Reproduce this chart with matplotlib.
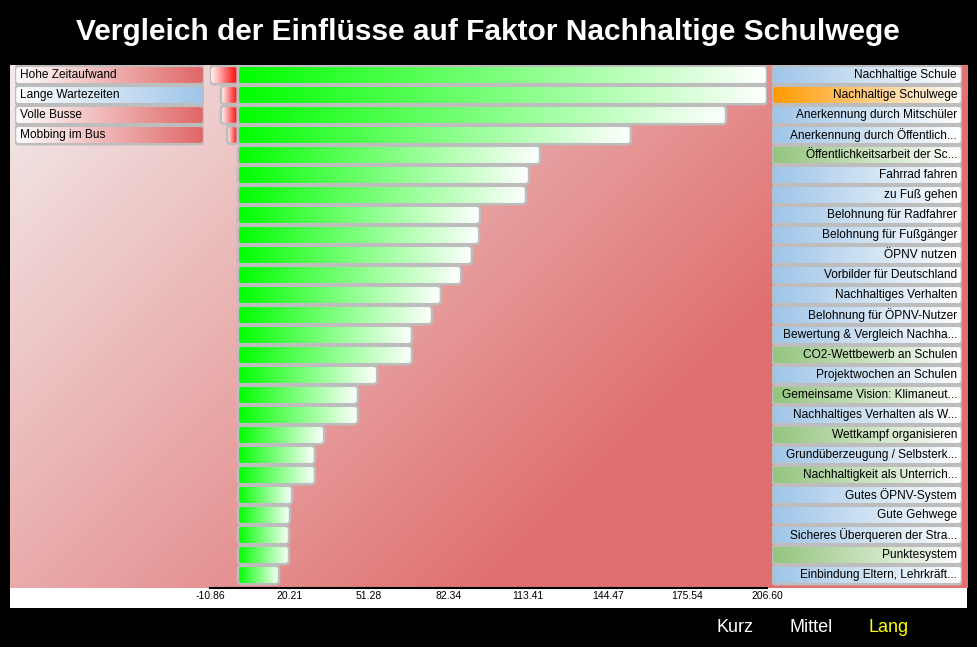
import numpy as np
import matplotlib
matplotlib.use("Agg")
import matplotlib.pyplot as plt
from matplotlib.patches import FancyBboxPatch
from matplotlib.colors import to_rgb

plt.rcParams['font.family'] = ['Liberation Sans', 'DejaVu Sans']

# ---------------- data ----------------
title = "Vergleich der Einflüsse auf Faktor Nachhaltige Schulwege"

pos_labels = [
    "Nachhaltige Schule", "Nachhaltige Schulwege", "Anerkennung durch Mitschüler",
    "Anerkennung durch Öffentlich...", "Öffentlichkeitsarbeit der Sc...", "Fahrrad fahren",
    "zu Fuß gehen", "Belohnung für Radfahrer", "Belohnung für Fußgänger", "ÖPNV nutzen",
    "Vorbilder für Deutschland", "Nachhaltiges Verhalten", "Belohnung für ÖPNV-Nutzer",
    "Bewertung & Vergleich Nachha...", "CO2-Wettbewerb an Schulen", "Projektwochen an Schulen",
    "Gemeinsame Vision: Klimaneut...", "Nachhaltiges Verhalten als W...", "Wettkampf organisieren",
    "Grundüberzeugung / Selbsterk...", "Nachhaltigkeit als Unterrich...", "Gutes ÖPNV-System",
    "Gute Gehwege", "Sicheres Überqueren der Stra...", "Punktesystem",
    "Einbindung Eltern, Lehrkräft...",
]
pos_values = [206.6, 206.6, 190.6, 153.5, 118.0, 113.7, 112.5, 94.6, 94.2, 91.4,
              87.2, 79.3, 75.8, 68.0, 68.0, 54.4, 46.9, 46.9, 33.7, 30.1,
              30.1, 21.2, 20.4, 20.0, 20.0, 16.1]
pos_groups = ["blue", "orange", "blue", "blue", "green", "blue", "blue", "blue", "blue", "blue",
              "blue", "blue", "blue", "blue", "green", "blue", "green", "blue", "green", "blue",
              "green", "blue", "blue", "blue", "green", "blue"]

neg_labels = ["Hohe Zeitaufwand", "Lange Wartezeiten", "Volle Busse", "Mobbing im Bus"]
neg_values = [-10.86, -6.6, -6.6, -4.2]
neg_groups = ["red", "blue", "red", "red"]

tick_values = list(np.linspace(-10.86, 206.60, 8))
tick_labels = ["-10.86", "20.21", "51.28", "82.34", "113.41", "144.47", "175.54", "206.60"]

legend_items = ["Kurz", "Mittel", "Lang"]
legend_colors = ["white", "white", "#ffff00"]

group_colors = {"blue": "#9fc5e8", "orange": "#ff9900", "green": "#93c47d", "red": "#e06666"}

# ---------------- figure ----------------
W, H = 977, 647
fig = plt.figure(figsize=(W / 100, H / 100), dpi=100, facecolor="black")


def px_axes(x0, y0, x1, y1, **kw):
    return fig.add_axes([x0 / W, 1 - y1 / H, (x1 - x0) / W, (y1 - y0) / H], **kw)


ylim = (25.65, -0.5)

# background gradient panel
bg = px_axes(10, 65, 967, 588)
bg.set_zorder(0)
ny, nx = 200, 400
xx, yy = np.meshgrid(np.linspace(0, 957, nx), np.linspace(0, 523, ny))
t = np.clip(0.05 + 0.00095 * xx + 0.00095 * yy, 0, 1)[..., None]
c0 = np.array(to_rgb("#f4f2f2"))
c1 = np.array(to_rgb("#e07070"))
bg.imshow(c0 * (1 - t) + c1 * t, aspect="auto", extent=[0, 1, 1, 0], interpolation="bilinear")
bg.set_xlim(0, 1)
bg.set_ylim(1, 0)
bg.axis("off")

# white strip under the axis
strip = px_axes(10, 588, 967, 608)
strip.set_facecolor("white")
strip.set_xticks([])
strip.set_yticks([])
for s in strip.spines.values():
    s.set_visible(False)


def grad_box(ax, x, y, w, h, cl, cr, rsize, aspect, ec="#bdbdbd", lw=1.8):
    patch = FancyBboxPatch((x, y - h / 2), w, h,
                           boxstyle=f"round,pad=0,rounding_size={rsize}",
                           mutation_aspect=aspect, fc="none", ec=ec, lw=lw, zorder=3)
    ax.add_patch(patch)
    g = np.linspace(0, 1, 256)[:, None]
    img = (np.array(to_rgb(cl)) * (1 - g) + np.array(to_rgb(cr)) * g)[None, :, :]
    im = ax.imshow(img, extent=[x, x + w, y + h / 2, y - h / 2], aspect="auto",
                   interpolation="bilinear", zorder=2)
    im.set_clip_path(patch)
    return patch


# bar axes
ax = px_axes(210, 65, 767, 588)
ax.set_zorder(2)
ax.patch.set_alpha(0)
xmin, xmax = -10.86, 206.60
xs = 557 / (xmax - xmin)
ys = 20.0
asp = xs / ys
bh = 0.92
for i, v in enumerate(pos_values):
    grad_box(ax, 0, i, v, bh, "#00ff00", "#ffffff", 4 / xs, asp)
for i, v in enumerate(neg_values):
    grad_box(ax, v, i, -v, bh, "#ffffff", "#ff0000", 4 / xs, asp)
ax.set_xlim(xmin, xmax)
ax.set_ylim(*ylim)
ax.set_xticks(tick_values, tick_labels)
ax.tick_params(axis="x", length=0, pad=2, labelsize=7.5, colors="black")
ax.set_yticks([])
for k in ("top", "left", "right"):
    ax.spines[k].set_visible(False)
ax.spines["bottom"].set_color("black")
ax.spines["bottom"].set_linewidth(1.5)
ax.spines["bottom"].set_zorder(6)

# right label axes
ra = px_axes(772, 65, 962, 588)
ra.set_zorder(2)
ra.patch.set_alpha(0)
lasp = 190 / 20.0
for i, (lab, g) in enumerate(zip(pos_labels, pos_groups)):
    grad_box(ra, 0, i, 1, bh, group_colors[g], "#ffffff", 4 / 190, lasp)
    ra.text(0.974, i + 0.02, lab, ha="right", va="center", fontsize=8.6, color="black", zorder=5)
ra.set_xlim(0, 1)
ra.set_ylim(*ylim)
ra.axis("off")

# left label axes
la = px_axes(15, 65, 204, 588)
la.set_zorder(2)
la.patch.set_alpha(0)
for i, (lab, g) in enumerate(zip(neg_labels, neg_groups)):
    grad_box(la, 0, i, 1, bh, "#ffffff", group_colors[g], 4 / 189, 189 / 20.0)
    la.text(0.026, i + 0.02, lab, ha="left", va="center", fontsize=8.6, color="black", zorder=5)
la.set_xlim(0, 1)
la.set_ylim(*ylim)
la.axis("off")

# title
fig.text(488 / W, 1 - 32 / H, title, ha="center", va="center", color="white",
         fontsize=21.5, fontweight="bold")

# legend
for lab, col, xp in zip(legend_items, legend_colors, [735, 811, 889]):
    fig.text(xp / W, 1 - 628 / H, lab, ha="center", va="center", color=col, fontsize=13)

fig.savefig("out.png", dpi=100, facecolor="black")
